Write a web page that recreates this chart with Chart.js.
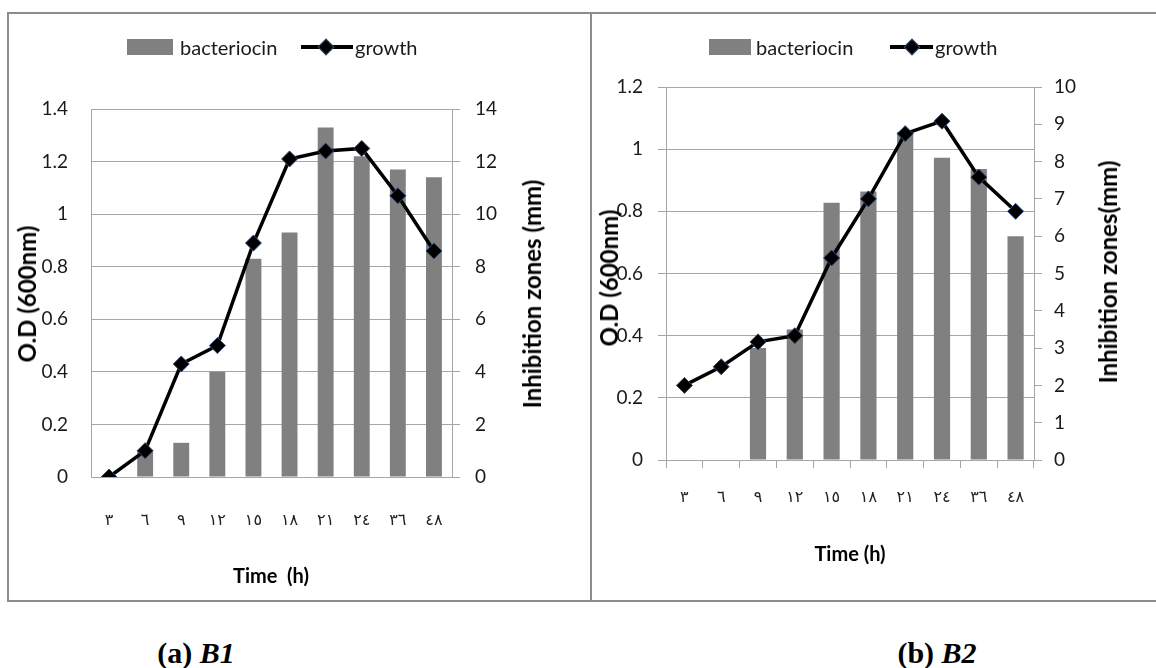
<!DOCTYPE html>
<html>
<head>
<meta charset="utf-8">
<script src="https://cdn.jsdelivr.net/npm/chart.js@4.4.1/dist/chart.umd.min.js"></script>
<style>
  body { margin: 0; width: 1156px; height: 668px; overflow: hidden; background: #fff; position: relative; font-family: Lato, sans-serif; }
  .panel { position: absolute; border: 2px solid #8c8c8c; box-sizing: border-box; }
  .wrap { position: absolute; }
  .t { position: absolute; white-space: pre; color: #000; line-height: 1; }
  .ytitle { transform: translate(-50%, -50%) rotate(-90deg); font-weight: bold; font-size: 24px; }
  .xtitle { transform: translate(-50%, -50%); font-weight: bold; font-size: 20px; }
  .leg { font-size: 20px; color: #1a1a1a; transform: translateY(-50%); }
  .box { position: absolute; background: #808080; }
  .lline { position: absolute; height: 4px; background: #000; }
  .dia { position: absolute; width: 10px; height: 10px; background: #000; border: 1px solid #2f4d7a; transform: translate(-50%, -50%) rotate(45deg); }
  .cap { position: absolute; transform: translate(-50%, -50%); font-family: "Liberation Serif", serif; font-weight: bold; font-size: 30px; white-space: pre; }
</style>
</head>
<body>
<div class="panel" style="left:7px;top:12px;width:585px;height:590px;"></div>
<div class="panel" style="left:590px;top:12px;width:600px;height:590px;"></div>

<div class="wrap" style="left:8px;top:13px;width:571px;height:586px;"><canvas id="chartB1"></canvas></div>
<div class="wrap" style="left:592px;top:14px;width:564px;height:584px;"><canvas id="chartB2"></canvas></div>

<!-- legends -->
<div class="box" style="left:127px;top:39px;width:46px;height:16px;"></div>
<div class="t leg" style="left:180px;top:47px;">bacteriocin</div>
<div class="lline" style="left:301px;top:45px;width:52px;"></div>
<div class="dia" style="left:326px;top:47px;"></div>
<div class="t leg" style="left:355px;top:47px;">growth</div>

<div class="box" style="left:709px;top:39px;width:42px;height:16px;"></div>
<div class="t leg" style="left:756px;top:47px;">bacteriocin</div>
<div class="lline" style="left:890px;top:45px;width:43px;"></div>
<div class="dia" style="left:912px;top:47px;"></div>
<div class="t leg" style="left:935px;top:47px;">growth</div>

<!-- axis titles -->
<div class="t ytitle" style="left:27px;top:294px;">O.D (600nm)</div>
<div class="t ytitle" style="left:532px;top:294px;">Inhibition zones (mm)</div>
<div class="t xtitle" style="left:271px;top:575px;">Time  (h)</div>

<div class="t ytitle" style="left:609px;top:278px;">O.D (600nm)</div>
<div class="t ytitle" style="left:1108px;top:272px;">Inhibition zones(mm)</div>
<div class="t xtitle" style="left:850px;top:553px;">Time (h)</div>

<div class="cap" style="left:196px;top:653px;">(a) <i>B1</i></div>
<div class="cap" style="left:937px;top:653px;">(b) <i>B2</i></div>

<script>
// time points (h), written with Arabic-Indic digits as in the figure
const hours = ['٣', '٦', '٩', '١٢', '١٥', '١٨', '٢١', '٢٤', '٣٦', '٤٨'];

// B1
const b1Bacteriocin = [0, 1, 1.3, 4, 8.3, 9.3, 13.3, 12.2, 11.7, 11.4];   // inhibition zone, mm
const b1Growth = [0, 0.1, 0.43, 0.5, 0.89, 1.21, 1.24, 1.25, 1.07, 0.86];  // O.D 600nm

// B2
const b2Bacteriocin = [0, 0, 3, 3.5, 6.9, 7.2, 8.8, 8.1, 7.8, 6];
const b2Growth = [0.24, 0.3, 0.38, 0.4, 0.65, 0.84, 1.05, 1.09, 0.91, 0.8];

const GRID = '#a6a6a6';
const tickFont = { family: 'Lato', size: 19 };
const tickColor = '#1a1a1a';
const fmt = v => String(Math.round(v * 10) / 10);

function makeChart(id, growth, bact, cfg) {
    const ctx = document.getElementById(id).getContext('2d');
    return new Chart(ctx, {
        type: 'bar',
        data: {
            labels: hours,
            datasets: [{
                type: 'line',
                label: 'growth',
                data: growth,
                yAxisID: 'y',
                order: 0,
                borderColor: '#000',
                borderWidth: 3.5,
                tension: 0,
                pointStyle: 'rectRot',
                pointRadius: 8,
                pointBackgroundColor: '#000',
                pointBorderColor: '#2f4d7a',
                pointBorderWidth: 1
            }, {
                label: 'bacteriocin',
                data: bact,
                yAxisID: 'y1',
                order: 1,
                backgroundColor: '#808080',
                categoryPercentage: 1,
                barPercentage: 0.44
            }]
        },
        options: {
            responsive: true,
            maintainAspectRatio: false,
            animation: false,
            events: [],
            layout: { padding: { top: cfg.top, left: 0, right: 0, bottom: 0 } },
            plugins: { legend: { display: false }, tooltip: { enabled: false } },
            scales: {
                x: {
                    grid: { drawOnChartArea: false, drawTicks: cfg.xTicks, tickLength: 8, color: GRID },
                    border: { color: GRID },
                    ticks: { font: { family: 'DejaVu Sans', size: 16 }, color: '#222', padding: cfg.xPad, maxRotation: 0 },
                    afterFit: s => { s.height = cfg.xH; }
                },
                y: {
                    position: 'left',
                    min: 0, max: cfg.leftMax,
                    ticks: { stepSize: 0.2, font: tickFont, color: tickColor, padding: cfg.leftPad, callback: fmt },
                    grid: { color: GRID, drawTicks: cfg.leftTicks, tickLength: 8 },
                    border: { color: GRID },
                    afterFit: s => { s.width = cfg.leftW; }
                },
                y1: {
                    position: 'right',
                    min: 0, max: cfg.rightMax,
                    ticks: { stepSize: cfg.rightStep, font: tickFont, color: tickColor, padding: cfg.rightPad },
                    grid: { drawOnChartArea: false, color: GRID, tickLength: 8 },
                    border: { color: GRID },
                    afterFit: s => { s.width = cfg.rightW; }
                }
            }
        }
    });
}

makeChart('chartB1', b1Growth, b1Bacteriocin, {
    top: 96, leftW: 83, rightW: 127, xH: 122,
    leftMax: 1.4, rightMax: 14, rightStep: 2,
    leftTicks: false, leftPad: 23, rightPad: 15,
    xTicks: false, xPad: 34
});

makeChart('chartB2', b2Growth, b2Bacteriocin, {
    top: 73, leftW: 74, rightW: 122, xH: 138,
    leftMax: 1.2, rightMax: 10, rightStep: 1,
    leftTicks: true, leftPad: 15, rightPad: 12,
    xTicks: true, xPad: 20
});
</script>
</body>
</html>
